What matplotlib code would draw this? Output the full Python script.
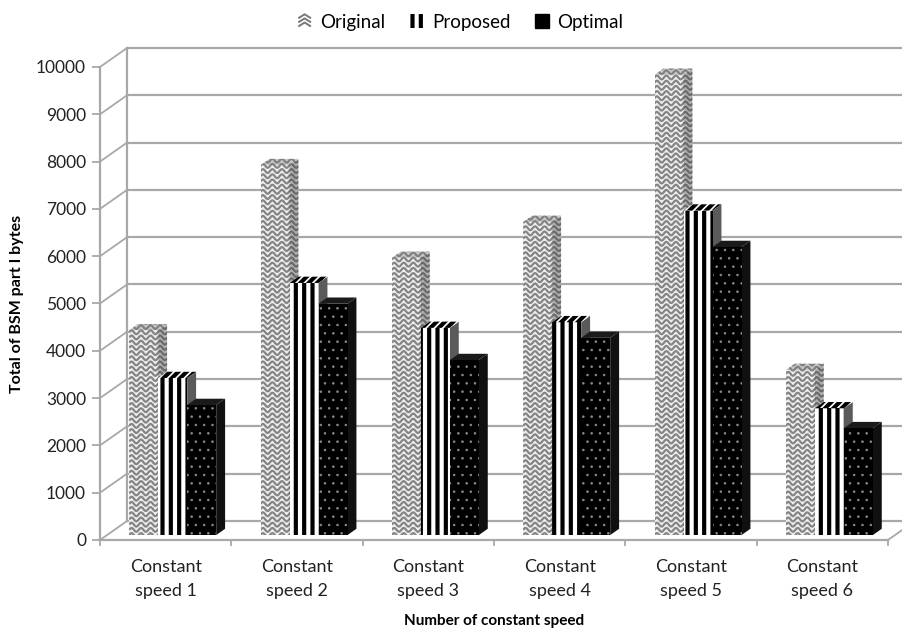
import numpy as np
import matplotlib
matplotlib.use('Agg')
import matplotlib.pyplot as plt
from matplotlib.patches import Rectangle, Polygon, Patch
from matplotlib.collections import LineCollection
from matplotlib.lines import Line2D
from matplotlib.legend_handler import HandlerPatch

plt.rcParams['font.family'] = ['Lato', 'DejaVu Sans']
plt.rcParams['hatch.linewidth'] = 3.0

categories = ['Constant\nspeed 1', 'Constant\nspeed 2', 'Constant\nspeed 3',
              'Constant\nspeed 4', 'Constant\nspeed 5', 'Constant\nspeed 6']
original = [4330, 7820, 5860, 6620, 9730, 3490]
proposed = [3320, 5330, 4380, 4500, 6860, 2680]
optimal = [2750, 4890, 3700, 4170, 6090, 2260]
series_names = ['Original', 'Proposed', 'Optimal']
yticks = list(range(0, 10001, 1000))

W, H = 903, 635
fig = plt.figure(figsize=(W / 100, H / 100), dpi=100)
# the axes is the front plane of the 3-D box
ax = fig.add_axes([100 / W, (H - 540) / H, 788 / W, 473 / H])
ax.set_xlim(-0.5, 5.5)
ax.set_ylim(0, 10000)

# pixel -> data conversions
px_x = 6.0 / 788
px_y = 10000.0 / 473
dX, dY = 27 * px_x, 19 * px_y          # depth of the box
t0, t1 = 0.26, 0.59                     # front / back of the bars (depth fraction)
grid_c = '#a8a8a8'

# back wall gridlines
for v in yticks:
    ax.plot([-0.5 + dX, 5.5 + dX + 1], [v + dY, v + dY], color=grid_c, lw=1.6,
            clip_on=False, zorder=1)
    # side wall diagonals
    ax.plot([-0.5, -0.5 + dX], [v, v + dY], color=grid_c, lw=1.3, clip_on=False, zorder=1)
ax.plot([-0.5 + dX] * 2, [dY, 10000 + dY], color=grid_c, lw=1.6, clip_on=False, zorder=1)
# floor
ax.plot([-0.5, 5.5], [0, 0], color=grid_c, lw=1.6, clip_on=False, zorder=1)
ax.plot([5.5, 5.5 + dX], [0, dY], color=grid_c, lw=1.3, clip_on=False, zorder=1)
for i in range(7):
    ax.plot([i - 0.5] * 2, [0, -5 * px_y], color=grid_c, lw=1.3, clip_on=False, zorder=1)

for s in ['top', 'right', 'bottom']:
    ax.spines[s].set_visible(False)
ax.spines['left'].set_color(grid_c)
ax.spines['left'].set_linewidth(1.6)
ax.set_yticks(yticks)
ax.tick_params(axis='y', length=6, color=grid_c, width=1.3, labelsize=12.5,
               labelcolor='#222222', pad=4)
ax.set_xticks(range(6))
ax.set_xticklabels(categories, fontsize=13, color='#222222', linespacing=1.55)
ax.tick_params(axis='x', length=0, pad=14)
ax.set_ylabel('Total of BSM part I bytes', fontsize=11.5, fontweight='bold', labelpad=9)
ax.set_xlabel('Number of constant speed', fontsize=11, fontweight='bold', labelpad=11)

bw = 29 * px_x
ddx, ddy = (t1 - t0) * dX, (t1 - t0) * dY
base = t0 * dY

styles = [
    dict(front='#efefef', side='#b0b0b0', top='#c8c8c8'),
    dict(front='white', side='#5a5a5a', top='white'),
    dict(front='black', side='#101010', top='#1a1a1a'),
]


def wave_lines(x0, x1, y0, y1):
    segs = []
    xs = np.linspace(x0, x1, 80)
    step = 5.2 * px_y
    y = y0
    while y < y1 + 3 * step:
        ys = y + 1.9 * px_y * np.sin(2 * np.pi * (xs - x0) / (9.5 * px_x))
        segs.append(np.column_stack([xs, ys]))
        y += step
    return segs


for k, vals in enumerate([original, proposed, optimal]):
    st = styles[k]
    for i, v in enumerate(vals):
        x0 = i + t0 * dX + (k - 1.5) * bw
        x1 = x0 + bw
        top = base + v
        z = 3 + i * 3 + k
        side = Polygon([(x1, base), (x1 + ddx, base + ddy), (x1 + ddx, top + ddy), (x1, top)],
                       closed=True, facecolor=st['side'], edgecolor='none', zorder=z,
                       clip_on=False)
        cap = Polygon([(x0, top), (x1, top), (x1 + ddx, top + ddy), (x0 + ddx, top + ddy)],
                      closed=True, facecolor=st['top'], edgecolor='none', zorder=z,
                      clip_on=False)
        front = Rectangle((x0, base), bw, v, facecolor=st['front'], edgecolor='none',
                          zorder=z, clip_on=False)
        for p in (side, cap, front):
            ax.add_patch(p)
        if k == 0:
            for patch, col in ((front, '#858585'), (side, '#6a6a6a'), (cap, '#808080')):
                lc = LineCollection(wave_lines(x0, x1 + ddx, base, top + ddy), colors=col,
                                    linewidths=1.6, zorder=z + 0.1)
                ax.add_collection(lc)
                lc.set_clip_path(patch)
        elif k == 1:
            ax.add_patch(Rectangle((x0, base), bw, v, fill=False, edgecolor='black',
                                   hatch='||', linewidth=0, zorder=z + 0.1, clip_on=False))
            ax.add_patch(Polygon(cap.get_xy(), closed=True, fill=False, edgecolor='black',
                                 hatch='////', linewidth=0, zorder=z + 0.1, clip_on=False))
        else:
            with plt.rc_context({'hatch.linewidth': 0.6}):
                ax.add_patch(Rectangle((x0, base), bw, v, fill=False, edgecolor='#8a8a8a',
                                       hatch='..', linewidth=0, zorder=z + 0.1,
                                       clip_on=False))


class HandlerWave(HandlerPatch):
    def create_artists(self, legend, orig_handle, xdescent, ydescent, width, height,
                       fontsize, trans):
        sq = min(width, height)
        xs0 = -xdescent + (width - sq) / 2
        arts = []
        for j in range(3):
            yy = -ydescent + sq * (0.15 + 0.3 * j)
            arts.append(Line2D([xs0 + 0.1 * sq, xs0 + 0.5 * sq, xs0 + 0.9 * sq],
                               [yy, yy + 0.25 * sq, yy], color='#777777', lw=1.4,
                               transform=trans))
        return arts


handles = [Patch(facecolor='white', label='Original'),
           Patch(facecolor='white', edgecolor='black', hatch='||', linewidth=0, label='Proposed'),
           Patch(facecolor='black', edgecolor='black', label='Optimal')]
fig.legend(handles=handles, loc='upper center', bbox_to_anchor=(0.51, 1.005), ncol=3,
           frameon=False, fontsize=13.5, handlelength=0.75, handleheight=0.75,
           columnspacing=1.3, handletextpad=0.45,
           handler_map={handles[0]: HandlerWave()})

fig.savefig('out.png', dpi=100)
